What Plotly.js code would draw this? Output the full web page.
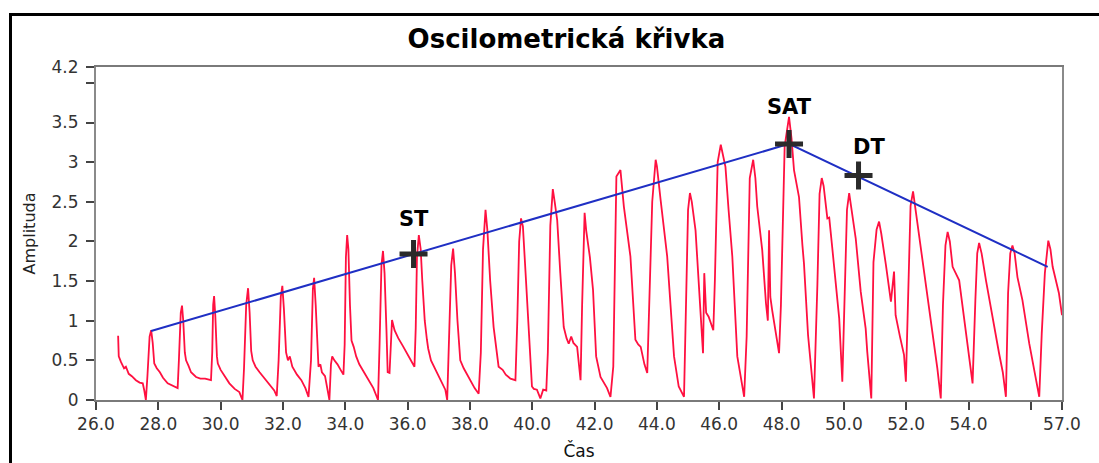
<!DOCTYPE html>
<html>
<head>
<meta charset="utf-8">
<script src="https://cdn.plot.ly/plotly-3.0.1.min.js"></script>
<style>
  html, body { margin: 0; padding: 0; background: #fff; overflow: hidden; }
  #chart { position: absolute; left: 0; top: 0; width: 1099px; height: 463px; }
  #frame { position: absolute; left: 9px; top: 13px; width: 1200px; height: 600px;
           border-left: 3px solid #000; border-top: 3px solid #000; pointer-events: none; }
</style>
</head>
<body>
<div id="chart"></div>
<div id="frame"></div>
<script>
// Oscillometric waveform (time in s, amplitude)
const timeS = [
  26.71,26.73,26.80,26.90,26.96,27.05,27.15,27.28,27.40,27.50,27.55,27.60,
  27.65,27.72,27.77,27.82,27.87,27.95,28.05,28.15,28.30,28.45,28.62,
  28.66,28.72,28.76,28.80,28.85,28.89,28.97,29.05,29.21,29.35,29.50,29.69,
  29.73,29.76,29.79,29.83,29.88,29.91,30.00,30.12,30.28,30.45,30.60,30.70,
  30.75,30.82,30.88,30.93,30.98,31.03,31.12,31.25,31.46,31.60,31.72,31.80,
  31.86,31.93,31.98,32.03,32.10,32.16,32.22,32.30,32.45,32.59,32.72,32.82,
  32.90,32.96,33.00,33.05,33.10,33.14,33.20,33.25,33.35,33.45,33.49,
  33.54,33.58,33.65,33.75,33.85,33.94,
  33.98,34.02,34.06,34.10,34.15,34.20,34.27,34.35,34.45,34.60,34.75,34.90,35.00,35.05,
  35.10,35.16,35.21,35.26,35.32,35.36,35.42,35.50,35.58,35.70,35.85,36.00,36.15,36.22,
  36.26,36.30,36.36,36.42,36.47,36.55,36.62,36.66,36.75,36.90,37.05,37.21,37.27,
  37.33,37.40,37.46,37.52,37.60,37.69,37.80,38.01,38.15,38.28,
  38.35,38.42,38.50,38.56,38.65,38.76,38.92,39.05,39.15,39.30,39.46,
  39.52,39.58,39.64,39.70,39.80,39.89,39.99,40.05,40.15,40.26,40.35,40.45,
  40.50,40.58,40.66,40.72,40.80,40.90,41.01,41.10,41.17,41.25,41.32,41.44,41.50,41.55,
  41.60,41.65,41.68,41.73,41.85,41.95,42.05,42.19,42.30,42.40,42.51,
  42.60,42.70,42.83,42.94,43.05,43.15,43.31,43.40,43.48,43.60,43.69,
  43.75,43.85,43.96,44.00,44.12,44.33,44.55,44.70,44.87,
  44.93,45.00,45.06,45.12,45.24,45.35,45.48,45.52,45.58,45.66,45.75,45.81,
  45.86,45.95,46.05,46.12,46.20,46.30,46.42,46.58,46.70,46.80,
  46.88,46.98,47.09,47.16,47.22,47.38,47.50,47.56,47.60,47.64,47.70,47.80,47.92,
  47.98,48.10,48.24,48.32,48.40,48.56,48.67,48.72,48.85,48.95,49.04,
  49.15,49.22,49.29,49.35,49.47,49.53,49.63,49.85,49.95,
  50.02,50.10,50.17,50.25,50.38,50.54,50.70,50.75,50.88,
  50.95,51.05,51.13,51.20,51.35,51.45,51.51,51.61,51.66,51.80,51.93,51.99,
  52.05,52.14,52.22,52.30,52.41,52.63,52.84,53.00,53.11,
  53.18,53.26,53.33,53.40,53.49,53.70,53.86,54.08,54.13,
  54.22,54.28,54.34,54.42,54.56,54.78,54.98,55.10,55.20,
  55.27,55.34,55.41,55.48,55.57,55.73,55.95,56.10,56.27,
  56.35,56.45,56.56,56.63,56.70,56.78,56.90,57.00
];
const amplitude = [
  0.81,0.55,0.48,0.40,0.42,0.33,0.30,0.25,0.22,0.21,0.12,0.00,
  0.30,0.80,0.88,0.72,0.46,0.40,0.35,0.28,0.21,0.18,0.15,
  0.50,1.10,1.19,1.00,0.60,0.50,0.43,0.35,0.29,0.27,0.27,0.25,
  0.60,1.20,1.31,1.05,0.55,0.46,0.38,0.30,0.21,0.14,0.10,0.00,
  0.40,1.20,1.41,1.10,0.62,0.50,0.42,0.35,0.25,0.18,0.12,0.05,
  0.50,1.30,1.44,1.15,0.60,0.50,0.55,0.42,0.32,0.25,0.15,0.04,
  0.50,1.40,1.54,1.20,0.70,0.42,0.45,0.35,0.30,0.10,0.00,
  0.45,0.55,0.50,0.45,0.38,0.32,
  0.70,1.80,2.08,1.90,1.20,0.75,0.67,0.55,0.45,0.35,0.25,0.15,0.05,0.00,
  0.70,1.70,1.88,1.60,0.90,0.35,0.34,1.01,0.88,0.78,0.68,0.58,0.48,0.42,
  0.90,1.80,2.08,1.90,1.51,1.00,0.76,0.65,0.50,0.38,0.25,0.13,0.00,
  0.80,1.70,1.91,1.60,1.00,0.50,0.40,0.25,0.15,0.08,
  0.60,1.90,2.40,2.14,1.50,0.92,0.42,0.38,0.32,0.27,0.25,
  1.00,2.00,2.29,2.19,1.50,0.92,0.17,0.14,0.13,0.02,0.13,0.12,
  0.60,2.20,2.66,2.50,2.27,1.60,0.92,0.78,0.71,0.80,0.72,0.67,0.40,0.25,
  1.20,2.20,2.36,2.14,1.80,1.39,0.55,0.29,0.21,0.15,0.04,
  0.42,2.82,2.90,2.44,2.10,1.81,0.76,0.70,0.67,0.45,0.34,
  1.05,2.50,3.03,2.95,2.52,1.81,0.55,0.17,0.04,
  1.00,2.40,2.61,2.50,2.14,1.39,0.59,1.60,1.10,1.05,0.95,0.88,
  1.50,3.00,3.22,3.10,2.94,2.40,1.81,0.55,0.25,0.04,
  0.80,2.80,3.03,2.80,2.44,1.89,1.22,1.00,2.14,1.30,1.13,0.90,0.59,
  1.20,3.20,3.57,3.30,2.90,2.56,1.95,1.72,0.82,0.40,0.02,
  1.45,2.60,2.80,2.70,2.29,2.30,1.91,1.03,0.23,
  1.20,2.40,2.61,2.40,2.04,1.37,0.90,0.61,0.02,
  1.74,2.15,2.25,2.10,1.70,1.40,1.24,1.62,1.07,0.80,0.57,0.23,
  1.20,2.45,2.63,2.40,2.08,1.49,0.90,0.40,0.02,
  1.20,1.95,2.12,2.00,1.68,1.51,1.05,0.42,0.21,
  1.26,1.85,1.98,1.85,1.51,1.01,0.59,0.35,0.04,
  1.35,1.85,1.95,1.85,1.55,1.26,0.71,0.40,0.04,
  0.84,1.60,2.01,1.90,1.68,1.55,1.35,1.07
];

// Envelope (blue line) vertices
const envTime = [27.77, 48.24, 56.54];
const envAmp  = [0.87, 3.23, 1.68];

// Marked points
const pointLabels = ['ST', 'SAT', 'DT'];
const pointTime = [36.19, 48.24, 50.47];
const pointAmp  = [1.84, 3.23, 2.83];

// Axis ticks
const xTickVals = [26,28,30,32,34,36,38,40,42,44,46,48,50,52,54,56,57];
const xTickText = ['26.0','28.0','30.0','32.0','34.0','36.0','38.0','40.0','42.0','44.0','46.0','48.0','50.0','52.0','54.0','','57.0'];
const yTickVals = [0,0.5,1,1.5,2,2.5,3,3.5,4,4.2];
const yTickText = ['0','0.5','1','1.5','2','2.5','3','3.5','','4.2'];

const labelShift = { ST: [0, 35], SAT: [0, 37], DT: [10, 29] };

const traces = [
  { x: timeS, y: amplitude, type: 'scatter', mode: 'lines',
    line: { color: '#ff1040', width: 1.8 }, hoverinfo: 'x+y', showlegend: false },
  { x: envTime, y: envAmp, type: 'scatter', mode: 'lines',
    line: { color: '#1f2fc4', width: 2 }, showlegend: false },
  { x: pointTime, y: pointAmp, type: 'scatter', mode: 'markers',
    marker: { symbol: 'cross-thin', size: 20, color: '#2a2a2a', line: { color: '#2a2a2a', width: 5 } },
    showlegend: false }
];

const annotations = pointLabels.map((t, i) => ({
  x: pointTime[i], y: pointAmp[i], xref: 'x', yref: 'y', text: t, showarrow: false,
  xshift: labelShift[t][0], yshift: labelShift[t][1],
  font: { family: 'DejaVu Sans', size: 21, color: '#000', weight: 'bold' }
}));

const layout = {
  width: 1099, height: 463,
  margin: { l: 96, r: 37, t: 67, b: 63 },
  paper_bgcolor: '#fff', plot_bgcolor: '#fff',
  title: { text: '<b>Oscilometrická křivka</b>', x: 0.487, xref: 'paper', y: 0.915, yref: 'container',
           xanchor: 'center', yanchor: 'middle',
           font: { family: 'DejaVu Sans', size: 26, color: '#000' } },
  xaxis: {
    range: [26, 57], tickmode: 'array', tickvals: xTickVals, ticktext: xTickText,
    showgrid: false, zeroline: false, showline: true, mirror: true,
    linecolor: '#7a7a7a', linewidth: 2,
    ticks: 'outside', ticklen: 8, tickwidth: 2, tickcolor: '#444',
    tickfont: { family: 'DejaVu Sans', size: 17, color: '#333' },
    title: { text: 'Čas', standoff: 12, font: { family: 'DejaVu Sans', size: 17, color: '#111' } }
  },
  yaxis: {
    range: [0, 4.2], tickmode: 'array', tickvals: yTickVals, ticktext: yTickText,
    showgrid: false, zeroline: false, showline: true, mirror: true,
    linecolor: '#8a8a8a', linewidth: 2,
    ticks: 'outside', ticklen: 8, tickwidth: 2, tickcolor: '#444',
    ticklabelstandoff: 4,
    tickfont: { family: 'DejaVu Sans', size: 17, color: '#333' },
    title: { text: 'Amplituda', standoff: 12, font: { family: 'DejaVu Sans', size: 16, color: '#222' } }
  },
  annotations: annotations,
  showlegend: false
};

Plotly.newPlot('chart', traces, layout, { displayModeBar: false, staticPlot: true });
</script>
</body>
</html>
